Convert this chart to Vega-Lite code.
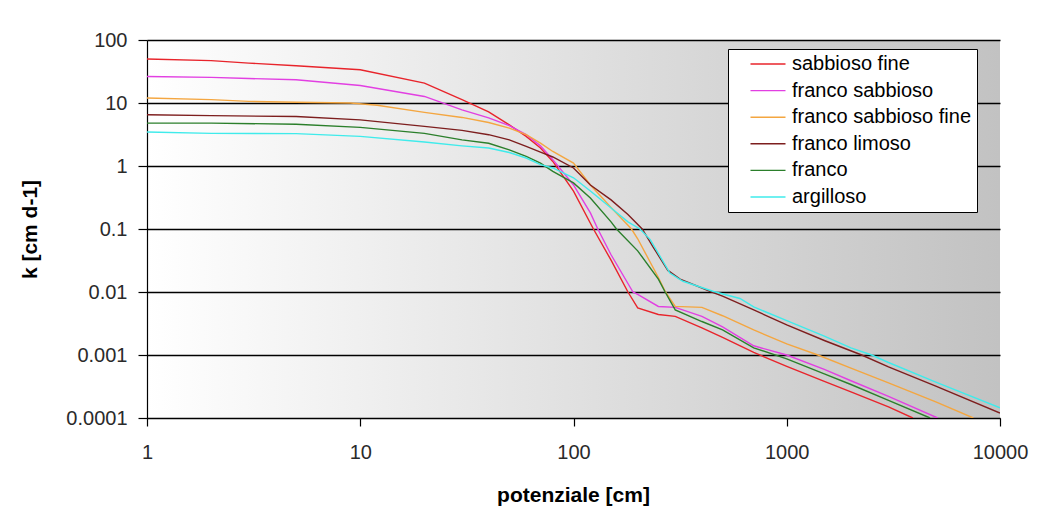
{
  "$schema": "https://vega.github.io/schema/vega-lite/v6.json",
  "width": 853,
  "height": 378,
  "autosize": "none",
  "padding": {"left": 147, "top": 40, "right": 49, "bottom": 101},
  "background": "#ffffff",
  "view": {
    "stroke": null,
    "fill": {
      "gradient": "linear",
      "x1": 0, "y1": 0, "x2": 1, "y2": 0,
      "stops": [
        {"offset": 0, "color": "#ffffff"},
        {"offset": 1, "color": "#c2c2c2"}
      ]
    }
  },
  "config": {
    "font": "Liberation Sans",
    "axis": {
      "domainColor": "#000000",
      "domainWidth": 1.2,
      "tickColor": "#000000",
      "tickWidth": 1.2,
      "labelFont": "Liberation Sans",
      "labelFontSize": 20,
      "labelColor": "#2a2a2a",
      "titleFont": "Liberation Sans",
      "titleFontSize": 21,
      "titleFontWeight": "bold",
      "titleColor": "#000000"
    },
    "legend": {
      "labelFont": "Liberation Sans",
      "labelFontSize": 20,
      "labelColor": "#000000"
    }
  },
  "data": {
    "values": [
      {"suolo": "sabbioso fine", "h": 1, "k": 50},
      {"suolo": "sabbioso fine", "h": 2, "k": 47},
      {"suolo": "sabbioso fine", "h": 3, "k": 43},
      {"suolo": "sabbioso fine", "h": 5, "k": 39},
      {"suolo": "sabbioso fine", "h": 10, "k": 33.7},
      {"suolo": "sabbioso fine", "h": 20, "k": 20.7},
      {"suolo": "sabbioso fine", "h": 30, "k": 11.3},
      {"suolo": "sabbioso fine", "h": 40, "k": 7.2},
      {"suolo": "sabbioso fine", "h": 50, "k": 4.5},
      {"suolo": "sabbioso fine", "h": 60, "k": 2.95},
      {"suolo": "sabbioso fine", "h": 70, "k": 1.93},
      {"suolo": "sabbioso fine", "h": 80, "k": 1.18},
      {"suolo": "sabbioso fine", "h": 100, "k": 0.4},
      {"suolo": "sabbioso fine", "h": 124, "k": 0.1},
      {"suolo": "sabbioso fine", "h": 150, "k": 0.032},
      {"suolo": "sabbioso fine", "h": 180, "k": 0.01},
      {"suolo": "sabbioso fine", "h": 200, "k": 0.0056},
      {"suolo": "sabbioso fine", "h": 250, "k": 0.0044},
      {"suolo": "sabbioso fine", "h": 300, "k": 0.0041},
      {"suolo": "sabbioso fine", "h": 400, "k": 0.0027},
      {"suolo": "sabbioso fine", "h": 500, "k": 0.0019},
      {"suolo": "sabbioso fine", "h": 700, "k": 0.0011},
      {"suolo": "sabbioso fine", "h": 1000, "k": 0.00066},
      {"suolo": "sabbioso fine", "h": 1500, "k": 0.00038},
      {"suolo": "sabbioso fine", "h": 2000, "k": 0.00026},
      {"suolo": "sabbioso fine", "h": 3000, "k": 0.00015},
      {"suolo": "sabbioso fine", "h": 3900, "k": 0.0001},

      {"suolo": "franco sabbioso", "h": 1, "k": 26.4},
      {"suolo": "franco sabbioso", "h": 2, "k": 25.5},
      {"suolo": "franco sabbioso", "h": 3, "k": 24.5},
      {"suolo": "franco sabbioso", "h": 5, "k": 23.4},
      {"suolo": "franco sabbioso", "h": 10, "k": 19},
      {"suolo": "franco sabbioso", "h": 20, "k": 12.7},
      {"suolo": "franco sabbioso", "h": 30, "k": 7.8},
      {"suolo": "franco sabbioso", "h": 40, "k": 5.8},
      {"suolo": "franco sabbioso", "h": 50, "k": 4.36},
      {"suolo": "franco sabbioso", "h": 60, "k": 3.14},
      {"suolo": "franco sabbioso", "h": 70, "k": 2.09},
      {"suolo": "franco sabbioso", "h": 80, "k": 1.26},
      {"suolo": "franco sabbioso", "h": 100, "k": 0.5},
      {"suolo": "franco sabbioso", "h": 120, "k": 0.18},
      {"suolo": "franco sabbioso", "h": 130, "k": 0.1},
      {"suolo": "franco sabbioso", "h": 150, "k": 0.039},
      {"suolo": "franco sabbioso", "h": 190, "k": 0.01},
      {"suolo": "franco sabbioso", "h": 200, "k": 0.0092},
      {"suolo": "franco sabbioso", "h": 250, "k": 0.0059},
      {"suolo": "franco sabbioso", "h": 300, "k": 0.0057},
      {"suolo": "franco sabbioso", "h": 400, "k": 0.0041},
      {"suolo": "franco sabbioso", "h": 500, "k": 0.0028},
      {"suolo": "franco sabbioso", "h": 700, "k": 0.0014},
      {"suolo": "franco sabbioso", "h": 1000, "k": 0.001},
      {"suolo": "franco sabbioso", "h": 1500, "k": 0.00059},
      {"suolo": "franco sabbioso", "h": 2000, "k": 0.00039},
      {"suolo": "franco sabbioso", "h": 3000, "k": 0.00022},
      {"suolo": "franco sabbioso", "h": 5100, "k": 0.0001},

      {"suolo": "franco sabbioso fine", "h": 1, "k": 12},
      {"suolo": "franco sabbioso fine", "h": 2, "k": 11.3},
      {"suolo": "franco sabbioso fine", "h": 3, "k": 10.6},
      {"suolo": "franco sabbioso fine", "h": 5, "k": 10.3},
      {"suolo": "franco sabbioso fine", "h": 9, "k": 10},
      {"suolo": "franco sabbioso fine", "h": 12, "k": 9.2},
      {"suolo": "franco sabbioso fine", "h": 20, "k": 7.1},
      {"suolo": "franco sabbioso fine", "h": 30, "k": 5.9},
      {"suolo": "franco sabbioso fine", "h": 40, "k": 4.9},
      {"suolo": "franco sabbioso fine", "h": 50, "k": 4.0},
      {"suolo": "franco sabbioso fine", "h": 60, "k": 3.14},
      {"suolo": "franco sabbioso fine", "h": 70, "k": 2.3},
      {"suolo": "franco sabbioso fine", "h": 80, "k": 1.7},
      {"suolo": "franco sabbioso fine", "h": 100, "k": 1.11},
      {"suolo": "franco sabbioso fine", "h": 120, "k": 0.5},
      {"suolo": "franco sabbioso fine", "h": 150, "k": 0.22},
      {"suolo": "franco sabbioso fine", "h": 187, "k": 0.1},
      {"suolo": "franco sabbioso fine", "h": 200, "k": 0.07},
      {"suolo": "franco sabbioso fine", "h": 250, "k": 0.017},
      {"suolo": "franco sabbioso fine", "h": 270, "k": 0.01},
      {"suolo": "franco sabbioso fine", "h": 300, "k": 0.0059},
      {"suolo": "franco sabbioso fine", "h": 400, "k": 0.0057},
      {"suolo": "franco sabbioso fine", "h": 500, "k": 0.0042},
      {"suolo": "franco sabbioso fine", "h": 700, "k": 0.0025},
      {"suolo": "franco sabbioso fine", "h": 1000, "k": 0.0015},
      {"suolo": "franco sabbioso fine", "h": 1400, "k": 0.001},
      {"suolo": "franco sabbioso fine", "h": 2000, "k": 0.00062},
      {"suolo": "franco sabbioso fine", "h": 3000, "k": 0.00036},
      {"suolo": "franco sabbioso fine", "h": 5000, "k": 0.00018},
      {"suolo": "franco sabbioso fine", "h": 7500, "k": 0.0001},

      {"suolo": "franco limoso", "h": 1, "k": 6.5},
      {"suolo": "franco limoso", "h": 2, "k": 6.3},
      {"suolo": "franco limoso", "h": 5, "k": 6.1},
      {"suolo": "franco limoso", "h": 10, "k": 5.4},
      {"suolo": "franco limoso", "h": 20, "k": 4.26},
      {"suolo": "franco limoso", "h": 30, "k": 3.67},
      {"suolo": "franco limoso", "h": 40, "k": 3.14},
      {"suolo": "franco limoso", "h": 50, "k": 2.6},
      {"suolo": "franco limoso", "h": 60, "k": 2.05},
      {"suolo": "franco limoso", "h": 70, "k": 1.66},
      {"suolo": "franco limoso", "h": 80, "k": 1.39},
      {"suolo": "franco limoso", "h": 100, "k": 0.93},
      {"suolo": "franco limoso", "h": 120, "k": 0.5},
      {"suolo": "franco limoso", "h": 150, "k": 0.29},
      {"suolo": "franco limoso", "h": 180, "k": 0.17},
      {"suolo": "franco limoso", "h": 210, "k": 0.1},
      {"suolo": "franco limoso", "h": 236, "k": 0.052},
      {"suolo": "franco limoso", "h": 277, "k": 0.022},
      {"suolo": "franco limoso", "h": 316, "k": 0.016},
      {"suolo": "franco limoso", "h": 445, "k": 0.01},
      {"suolo": "franco limoso", "h": 500, "k": 0.0086},
      {"suolo": "franco limoso", "h": 700, "k": 0.0052},
      {"suolo": "franco limoso", "h": 1000, "k": 0.003},
      {"suolo": "franco limoso", "h": 1500, "k": 0.0017},
      {"suolo": "franco limoso", "h": 2245, "k": 0.001},
      {"suolo": "franco limoso", "h": 3000, "k": 0.00065},
      {"suolo": "franco limoso", "h": 5000, "k": 0.00032},
      {"suolo": "franco limoso", "h": 10000, "k": 0.00012},

      {"suolo": "franco", "h": 1, "k": 4.8},
      {"suolo": "franco", "h": 2, "k": 4.8},
      {"suolo": "franco", "h": 5, "k": 4.6},
      {"suolo": "franco", "h": 10, "k": 4.1},
      {"suolo": "franco", "h": 20, "k": 3.3},
      {"suolo": "franco", "h": 30, "k": 2.6},
      {"suolo": "franco", "h": 40, "k": 2.3},
      {"suolo": "franco", "h": 50, "k": 1.8},
      {"suolo": "franco", "h": 60, "k": 1.42},
      {"suolo": "franco", "h": 70, "k": 1.11},
      {"suolo": "franco", "h": 80, "k": 0.82},
      {"suolo": "franco", "h": 100, "k": 0.54},
      {"suolo": "franco", "h": 120, "k": 0.31},
      {"suolo": "franco", "h": 150, "k": 0.13},
      {"suolo": "franco", "h": 159, "k": 0.1},
      {"suolo": "franco", "h": 200, "k": 0.045},
      {"suolo": "franco", "h": 250, "k": 0.016},
      {"suolo": "franco", "h": 269, "k": 0.01},
      {"suolo": "franco", "h": 300, "k": 0.0052},
      {"suolo": "franco", "h": 400, "k": 0.0034},
      {"suolo": "franco", "h": 500, "k": 0.0025},
      {"suolo": "franco", "h": 700, "k": 0.0013},
      {"suolo": "franco", "h": 1000, "k": 0.00087},
      {"suolo": "franco", "h": 1500, "k": 0.0005},
      {"suolo": "franco", "h": 2000, "k": 0.00034},
      {"suolo": "franco", "h": 3000, "k": 0.00019},
      {"suolo": "franco", "h": 4700, "k": 0.0001},

      {"suolo": "argilloso", "h": 1, "k": 3.47},
      {"suolo": "argilloso", "h": 2, "k": 3.3},
      {"suolo": "argilloso", "h": 5, "k": 3.26},
      {"suolo": "argilloso", "h": 10, "k": 2.95},
      {"suolo": "argilloso", "h": 20, "k": 2.4},
      {"suolo": "argilloso", "h": 30, "k": 2.09},
      {"suolo": "argilloso", "h": 40, "k": 1.93},
      {"suolo": "argilloso", "h": 50, "k": 1.64},
      {"suolo": "argilloso", "h": 60, "k": 1.34},
      {"suolo": "argilloso", "h": 70, "k": 1.05},
      {"suolo": "argilloso", "h": 80, "k": 0.93},
      {"suolo": "argilloso", "h": 100, "k": 0.65},
      {"suolo": "argilloso", "h": 120, "k": 0.4},
      {"suolo": "argilloso", "h": 150, "k": 0.215},
      {"suolo": "argilloso", "h": 180, "k": 0.13},
      {"suolo": "argilloso", "h": 205, "k": 0.1},
      {"suolo": "argilloso", "h": 229, "k": 0.068},
      {"suolo": "argilloso", "h": 283, "k": 0.02},
      {"suolo": "argilloso", "h": 326, "k": 0.0148},
      {"suolo": "argilloso", "h": 454, "k": 0.0102},
      {"suolo": "argilloso", "h": 603, "k": 0.0079},
      {"suolo": "argilloso", "h": 700, "k": 0.0058},
      {"suolo": "argilloso", "h": 1000, "k": 0.0035},
      {"suolo": "argilloso", "h": 1500, "k": 0.002},
      {"suolo": "argilloso", "h": 2000, "k": 0.0013},
      {"suolo": "argilloso", "h": 2500, "k": 0.001},
      {"suolo": "argilloso", "h": 3000, "k": 0.00076},
      {"suolo": "argilloso", "h": 5000, "k": 0.00037},
      {"suolo": "argilloso", "h": 10000, "k": 0.000145}
    ]
  },
  "mark": {"type": "line", "strokeWidth": 1.4, "clip": true},
  "encoding": {
    "x": {
      "field": "h",
      "type": "quantitative",
      "scale": {"type": "log", "domain": [1, 10000], "nice": false},
      "axis": {
        "title": "potenziale [cm]",
        "values": [1, 10, 100, 1000, 10000],
        "format": "d",
        "grid": false,
        "tickSize": 8,
        "labelPadding": 16,
        "labelFlush": false,
        "titleX": 426,
        "titleY": 77,
        "titleAnchor": null,
        "titleAlign": "center",
        "titleBaseline": "middle"
      }
    },
    "y": {
      "field": "k",
      "type": "quantitative",
      "scale": {"type": "log", "domain": [0.0001, 100], "nice": false},
      "axis": {
        "title": "k [cm d-1]",
        "values": [0.0001, 0.001, 0.01, 0.1, 1, 10, 100],
        "format": "~g",
        "grid": true,
        "gridColor": "#000000",
        "gridWidth": 1.3,
        "gridOpacity": 1,
        "tickSize": 9,
        "labelPadding": 11,
        "labelFlush": false,
        "titleX": -117,
        "titleY": 189,
        "titleAngle": -90,
        "titleAnchor": null,
        "titleAlign": "center",
        "titleBaseline": "middle"
      }
    },
    "color": {
      "field": "suolo",
      "type": "nominal",
      "scale": {
        "domain": ["sabbioso fine", "franco sabbioso", "franco sabbioso fine", "franco limoso", "franco", "argilloso"],
        "range": ["#e8242b", "#e23fe2", "#f4a640", "#7d1e1e", "#2b7f2b", "#3febeb"]
      },
      "legend": {
        "title": null,
        "orient": "none",
        "legendX": 581,
        "legendY": 9,
        "padding": 5,
        "fillColor": "#ffffff",
        "strokeColor": "#000000",
        "symbolType": "M-3.5,0H3.5",
        "symbolSize": 100,
        "symbolStrokeWidth": 1.4,
        "symbolOffset": 25,
        "labelOffset": 14,
        "labelLimit": 400,
        "rowPadding": 6.6
      }
    },
    "order": {"field": "h", "type": "quantitative"}
  }
}
